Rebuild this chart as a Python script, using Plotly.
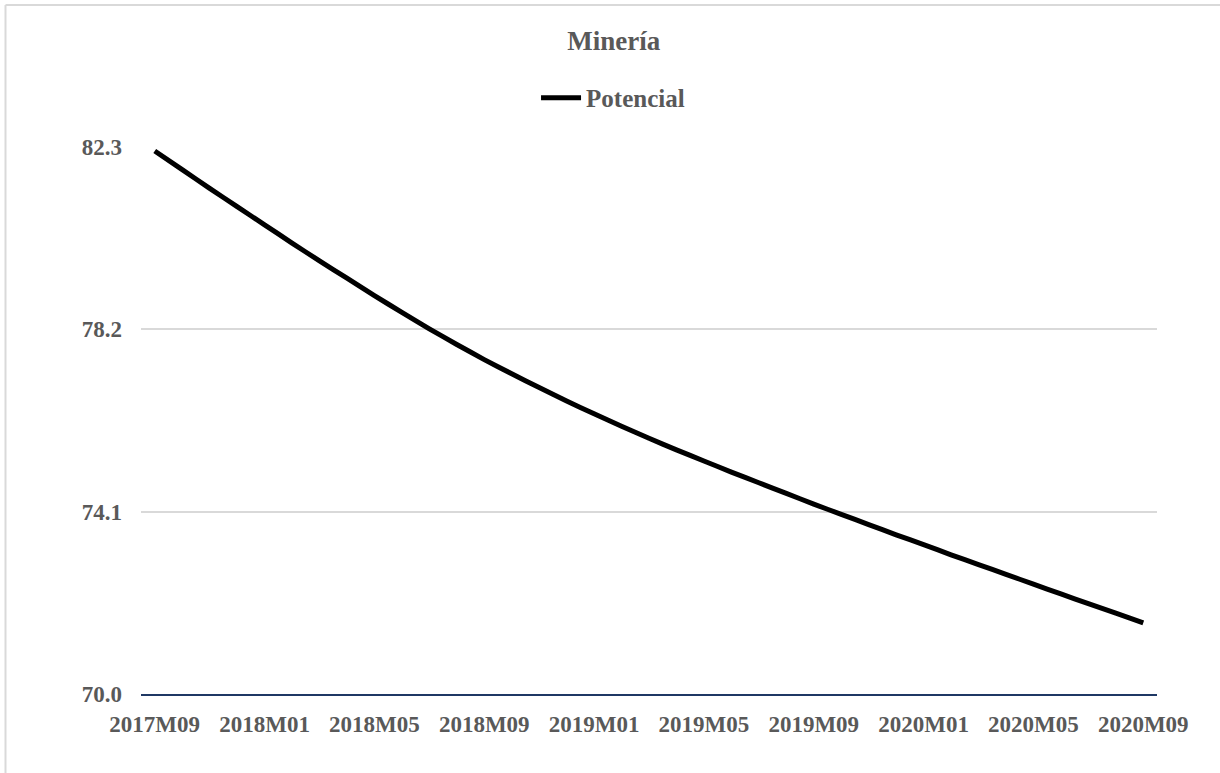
import plotly.graph_objects as go

# Monthly periods, 2017M09 .. 2020M09
periods = [f"{y}M{m:02d}" for y, m in
           [(2017, m) for m in range(9, 13)] +
           [(2018, m) for m in range(1, 13)] +
           [(2019, m) for m in range(1, 13)] +
           [(2020, m) for m in range(1, 10)]]

# Potential output index, mining sector
potencial = [82.21, 81.79, 81.37, 80.96, 80.55, 80.14, 79.74, 79.35, 78.96,
             78.58, 78.21, 77.86, 77.52, 77.20, 76.89, 76.59, 76.30, 76.02,
             75.75, 75.49, 75.24, 74.99, 74.75, 74.51, 74.27, 74.04, 73.81,
             73.58, 73.36, 73.13, 72.91, 72.69, 72.47, 72.25, 72.03, 71.82,
             71.60]

y_ticks = [70.0, 74.1, 78.2, 82.3]
x_ticks = periods[::4]

FONT = "Liberation Serif"
GRAY = "#595959"

fig = go.Figure()
fig.add_trace(go.Scatter(
    x=periods, y=potencial, mode="lines", name="<b>Potencial</b>",
    line=dict(color="black", width=5, shape="spline", smoothing=0.6),
))

fig.update_layout(
    width=1220, height=773,
    margin=dict(l=141, r=63, t=147, b=79),
    paper_bgcolor="white", plot_bgcolor="white",
    font=dict(family=FONT, color=GRAY, size=23),
    title=dict(text="<b>Minería</b>", x=0.503, xanchor="center",
               y=0.947, yanchor="middle",
               font=dict(family=FONT, color=GRAY, size=27)),
    showlegend=True,
    legend=dict(orientation="h", x=0.4646, xanchor="center",
                y=1.0896, yanchor="middle",
                font=dict(family=FONT, color=GRAY, size=25),
                itemwidth=40, bgcolor="rgba(0,0,0,0)"),
    xaxis=dict(type="category", range=[-0.5, len(periods) - 0.5],
               tickmode="array", tickvals=x_ticks,
               ticktext=[f"<b>{t}</b>" for t in x_ticks],
               showgrid=False, showline=True, linecolor="#1f3864", linewidth=2,
               ticks="", ticklabelstandoff=8, zeroline=False,
               tickfont=dict(family=FONT, color=GRAY, size=23)),
    yaxis=dict(range=[70, 82.3], tickmode="array", tickvals=y_ticks,
               ticktext=[f"<b>{v:.1f}</b>" for v in y_ticks],
               showgrid=True, gridcolor="#d9d9d9", gridwidth=1.5,
               showline=False, zeroline=False, ticks="",
               ticklabelstandoff=18,
               tickfont=dict(family=FONT, color=GRAY, size=23)),
    shapes=[
        # chart frame (left and top edges)
        dict(type="line", xref="paper", yref="paper",
             x0=(5.5 - 141) / 1016, x1=(5.5 - 141) / 1016,
             y0=(694 - 5) / 547, y1=-0.2,
             line=dict(color="#d9d9d9", width=2)),
        dict(type="line", xref="paper", yref="paper",
             x0=(5.5 - 141) / 1016, x1=1.1,
             y0=(694 - 5) / 547, y1=(694 - 5) / 547,
             line=dict(color="#d9d9d9", width=2)),
    ],
)

fig.write_html("out.html")
